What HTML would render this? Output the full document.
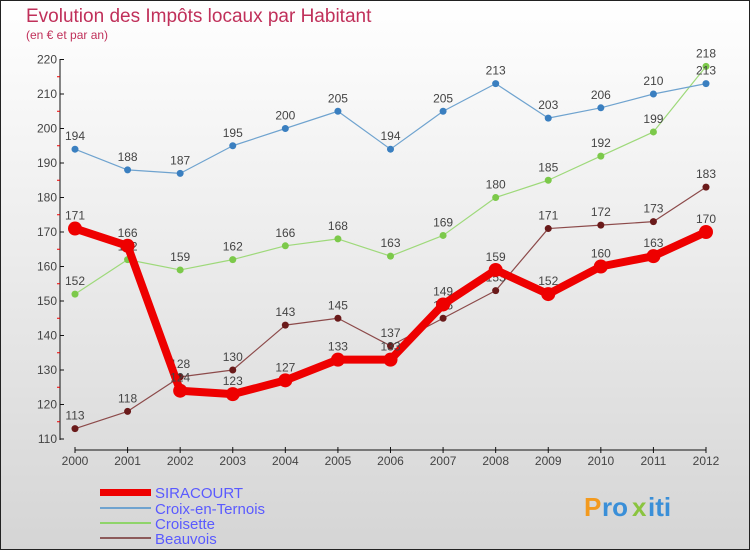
<!DOCTYPE html>
<html><head><meta charset="utf-8"><style>
body{margin:0;width:750px;height:550px;overflow:hidden;font-family:"Liberation Sans",sans-serif}
svg text{font-family:"Liberation Sans",sans-serif}
</style></head><body>
<svg id="c" width="750" height="550" xmlns="http://www.w3.org/2000/svg">
<defs><linearGradient id="bg" x1="0" y1="0" x2="0" y2="1"><stop offset="0" stop-color="#ffffff"/><stop offset="1" stop-color="#d5d5d5"/></linearGradient></defs>
<rect x="0.5" y="0.5" width="749" height="549" fill="url(#bg)" stroke="#222"/>
<text x="26" y="22" font-size="19" fill="#c0305a">Evolution des Impôts locaux par Habitant</text>
<text x="26" y="39" font-size="12" fill="#c0305a">(en € et par an)</text>
<g id="axes"></g><g id="series"></g>
<g>
<rect x="100" y="489" width="51" height="7" fill="#e00"/>
<text x="155" y="498" font-size="15" fill="#5a5aff">SIRACOURT</text>
<rect x="100" y="507" width="51" height="2" fill="#6fa3cf"/>
<text x="155" y="514" font-size="15" fill="#5a5aff">Croix-en-Ternois</text>
<rect x="100" y="522" width="51" height="2" fill="#8fd46a"/>
<text x="155" y="529" font-size="15" fill="#5a5aff">Croisette</text>
<rect x="100" y="537" width="51" height="2" fill="#8c5a5a"/>
<text x="155" y="544" font-size="15" fill="#5a5aff">Beauvois</text>
</g>
<g font-size="26" font-weight="bold">
<text x="584" y="516" fill="#f39a1e">P</text><text x="602" y="516" fill="#3a8fd8">ro</text><text x="632" y="516" fill="#8ac43f">x</text><text x="648" y="516" fill="#3a8fd8">iti</text>
</g>
</svg>
<script>
const years=[2000,2001,2002,2003,2004,2005,2006,2007,2008,2009,2010,2011,2012];
const yTicks=[110,120,130,140,150,160,170,180,190,200,210,220];
const siracourt=[171,166,124,123,127,133,133,149,159,152,160,163,170];
const croix=[194,188,187,195,200,205,194,205,213,203,206,210,213];
const croisette=[152,162,159,162,166,168,163,169,180,185,192,199,218];
const beauvois=[113,118,128,130,143,145,137,145,153,171,172,173,183];
const NS='http://www.w3.org/2000/svg';
function X(i){return 75+i*(706-75)/(years.length-1);}
function Y(v){return 439-(v-110)*(439-59.5)/110;}
function mk(t,a,p){const e=document.createElementNS(NS,t);for(const k in a)e.setAttribute(k,a[k]);p.appendChild(e);return e;}
const ax=document.getElementById('axes');
let l=mk('line',{x1:60,y1:59,x2:60,y2:440,stroke:'#111'},ax);


yTicks.forEach((v,i)=>{
 mk('line',{x1:60,y1:Y(v),x2:64,y2:Y(v),stroke:'#111'},ax);
 if(i<yTicks.length-1)mk('line',{x1:57,y1:Y(v+5),x2:60,y2:Y(v+5),stroke:'#e00'},ax);
 const t=mk('text',{x:57,y:Y(v)+4,'font-size':12,fill:'#444','text-anchor':'end'},ax);t.textContent=v;
 
 
});
l=mk('line',{x1:75,y1:450,x2:706,y2:450,stroke:'#111'},ax);


years.forEach((y,i)=>{
 mk('line',{x1:X(i),y1:447,x2:X(i),y2:453,stroke:'#111'},ax);
 const t=mk('text',{x:X(i),y:465,'font-size':12,fill:'#444','text-anchor':'middle'},ax);t.textContent=y;
 
 
});
const sg=document.getElementById('series');
function draw(d,name,col,dot,w,r){
 const g=mk('g',{},sg);
 
 
 const p=mk('polyline',{points:d.map((v,i)=>X(i)+','+Y(v)).join(' '),fill:'none',stroke:col,'stroke-width':w,'stroke-linejoin':'round'},g);
 
 
 d.forEach((v,i)=>{
  const c=mk('circle',{cx:X(i),cy:Y(v),r:r,fill:dot},g);
  
  
  const t=mk('text',{x:X(i),y:Y(v)-9,'font-size':12,fill:'#444','text-anchor':'middle'},g);t.textContent=v;
  
  
 });
}
draw(beauvois,'beauvois','#8c4a4a','#6a1a1a',1.2,3.5);
draw(croisette,'croisette','#9ed97a','#7cc94a',1.2,3.5);
draw(croix,'croix-en-ternois','#6fa3cf','#3a7fc0',1.2,3.5);
draw(siracourt,'siracourt','#e00','#e00',8,7);
</script>
</body></html>
